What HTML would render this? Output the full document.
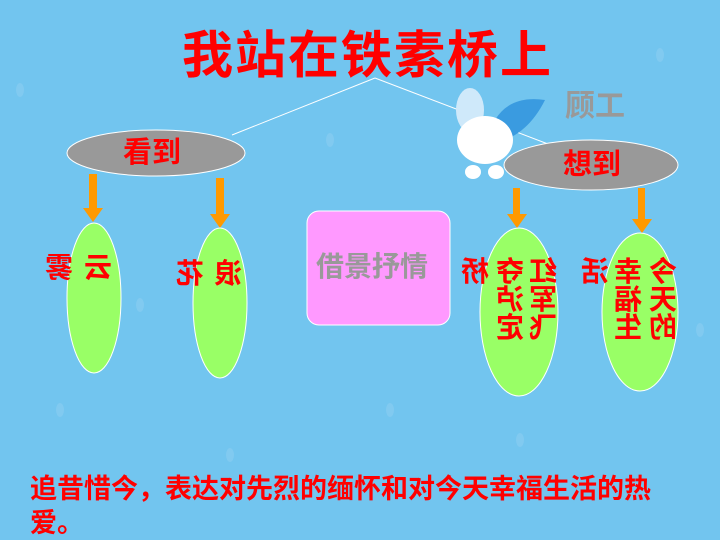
<!DOCTYPE html>
<html><head><meta charset="utf-8">
<style>
body{margin:0}
#s{position:relative;width:720px;height:540px;overflow:hidden;background:#72c5ef;font-family:"Liberation Sans","Noto Sans CJK SC","WenQuanYi Zen Hei",sans-serif}
.a{position:absolute}
.t{position:absolute;font-weight:bold;color:#f00;line-height:1}
.m{position:absolute;font-weight:bold;color:#f00;font-size:28px;line-height:1;transform:translate(-50%,-50%) scaleX(-1)}
</style></head><body>
<div id="s">
<svg class="a" width="720" height="540">
 <g fill="#8fcff2" opacity="0.5">
  <ellipse cx="20" cy="90" rx="4" ry="7"/><ellipse cx="330" cy="140" rx="4" ry="7"/><ellipse cx="660" cy="55" rx="4" ry="7"/>
  <ellipse cx="60" cy="410" rx="4" ry="7"/><ellipse cx="140" cy="305" rx="4" ry="7"/><ellipse cx="520" cy="440" rx="4" ry="7"/>
  <ellipse cx="700" cy="330" rx="4" ry="7"/><ellipse cx="230" cy="455" rx="4" ry="7"/><ellipse cx="390" cy="410" rx="4" ry="7"/>
 </g>
 <line x1="375" y1="78" x2="232" y2="135" stroke="#fff" stroke-width="1"/>
 <line x1="375" y1="78" x2="548" y2="144" stroke="#fff" stroke-width="1"/>
 <g>
  <ellipse cx="470" cy="110" rx="14" ry="22" fill="#cfe9fa"/>
  <path d="M495 120 Q510 95 545 100 Q530 130 505 140Z" fill="#3a9be0"/>
  <ellipse cx="485" cy="140" rx="28" ry="24" fill="#fff"/>
  <ellipse cx="473" cy="172" rx="8" ry="7" fill="#fff"/><ellipse cx="496" cy="172" rx="8" ry="7" fill="#fff"/>
 </g>
 <ellipse cx="156" cy="153" rx="89" ry="23" fill="#999" stroke="#fff"/>
 <ellipse cx="591" cy="165" rx="87" ry="25" fill="#999" stroke="#fff"/>
 <g fill="#f90">
  <rect x="89" y="174" width="8" height="36"/><polygon points="83,208 103,208 93,222"/>
  <rect x="216" y="178" width="8" height="38"/><polygon points="210,214 230,214 220,228"/>
  <rect x="513" y="188" width="7" height="28"/><polygon points="507,214 527,214 517,228"/>
  <rect x="638" y="188" width="7" height="32"/><polygon points="632,219 652,219 642,233"/>
 </g>
 <ellipse cx="94" cy="298" rx="27" ry="75" fill="#9f6" stroke="#fff"/>
 <ellipse cx="220" cy="303" rx="27" ry="75" fill="#9f6" stroke="#fff"/>
 <ellipse cx="519" cy="312" rx="39" ry="84" fill="#9f6" stroke="#fff"/>
 <ellipse cx="640" cy="312" rx="38" ry="79" fill="#9f6" stroke="#fff"/>
 <rect x="307" y="211" width="143" height="114" rx="12" fill="#f9f" stroke="#fff"/>
</svg>
<div class="t" style="left:182px;top:30px;font-size:51px;letter-spacing:2px">我站在铁素桥上</div>
<div class="t" style="left:565px;top:92px;font-size:30px;color:#999">顾工</div>
<div class="t" style="left:123px;top:139px;font-size:29px">看到</div>
<div class="t" style="left:563px;top:151px;font-size:29px">想到</div>
<div class="t" style="left:316px;top:253px;font-size:28px;color:#999;font-weight:bold">借景抒情</div>
<div>
<span class="m" style="left:98px;top:268px">云</span><span class="m" style="left:59px;top:268px">雾</span>
<span class="m" style="left:228px;top:274px">浪</span><span class="m" style="left:190px;top:274px">花</span>
<span class="m" style="left:543px;top:272px">红</span><span class="m" style="left:543px;top:300px">军</span><span class="m" style="left:543px;top:328px">飞</span>
<span class="m" style="left:510px;top:272px">夺</span><span class="m" style="left:510px;top:300px">泸</span><span class="m" style="left:510px;top:328px">定</span>
<span class="m" style="left:475px;top:272px">桥</span>
<span class="m" style="left:663px;top:272px">今</span><span class="m" style="left:663px;top:300px">天</span><span class="m" style="left:663px;top:328px">的</span>
<span class="m" style="left:628px;top:272px">幸</span><span class="m" style="left:628px;top:300px">福</span><span class="m" style="left:628px;top:328px">生</span>
<span class="m" style="left:595px;top:272px">活</span>
</div>
<div class="t" style="left:30px;top:472px;font-size:27px;line-height:34px;width:648px">追昔惜今，表达对先烈的缅怀和对今天幸福生活的热爱。</div>
</div>
</body></html>
